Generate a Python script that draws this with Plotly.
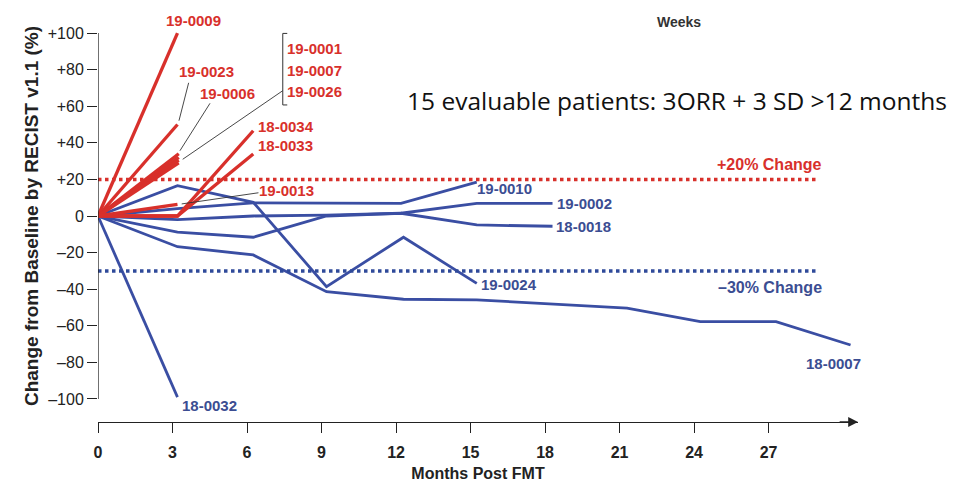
import plotly.graph_objects as go

# ---------------- data ----------------
red_patients = ["19-0009", "19-0023", "19-0006", "19-0001", "19-0007", "19-0026",
                "18-0034", "18-0033", "19-0013"]
red_months = [[0, 3.2], [0, 3.2], [0, 3.25], [0, 3.25], [0, 3.25], [0, 3.25],
              [0, 3.2, 6.25], [0, 3.2, 6.25], [0, 3.2]]
red_values = [[0, 100], [0, 50], [0, 34], [0, 32], [0, 30.5], [0, 29],
              [0, 0, 46.6], [0, 0, 33.9], [0, 6.3]]

blue_patients = ["19-0010", "19-0002", "18-0018", "19-0024", "18-0007", "18-0032"]
blue_months = [[0, 3.2, 6.25, 12.2, 15.25],
               [0, 3.2, 6.25, 9.2, 12.2, 15.25, 18.3],
               [0, 3.2, 6.25, 9.2, 12.2, 15.25, 18.3],
               [0, 3.2, 6.25, 9.2, 12.3, 15.25],
               [0, 3.2, 6.25, 9.2, 12.3, 15.25, 21.3, 24.25, 27.3, 30.3],
               [0, 3.2]]
blue_values = [[0, 4, 7.2, 6.9, 18.5],
               [0, -8.8, -11.6, 0, 1.5, 6.9, 6.9],
               [0, -2, 0, 0.5, 1.5, -4.9, -5.6],
               [0, 16.6, 7.5, -38.6, -11.6, -36.8],
               [0, -16.8, -21.3, -41.4, -45.5, -45.8, -50.4, -57.7, -57.7, -70.5],
               [0, -99]]

thresholds = [20, -30]
threshold_labels = ["+20% Change", "\u201330% Change"]

y_tickvals = [100, 80, 60, 40, 20, 0, -20, -40, -60, -80, -100]
y_ticktext = ["+100", "+80", "+60", "+40", "+20", "0", "\u201320", "\u201340",
              "\u201360", "\u201380", "\u2013100"]
x_tickvals = [0, 3, 6, 9, 12, 15, 18, 21, 24, 27]

# ---------------- style ----------------
RED = "#d8302b"
BLUE = "#3a4ea3"
BLUE_TXT = "#3b4d92"
FONT = "Liberation Sans, Arial, sans-serif"
X_MAX = 30.6
Y_MIN, Y_MAX = -112.6, 112.6

fig = go.Figure()

for name, xs, ys in zip(blue_patients, blue_months, blue_values):
    fig.add_trace(go.Scatter(x=xs, y=ys, mode="lines", name=name,
                             line=dict(color=BLUE, width=2.8), showlegend=False))
for name, xs, ys in zip(red_patients, red_months, red_values):
    fig.add_trace(go.Scatter(x=xs, y=ys, mode="lines", name=name,
                             line=dict(color=RED, width=3.3), showlegend=False))

# threshold dotted lines
for val, col in zip(thresholds, [RED, "#2f4a9a"]):
    fig.add_trace(go.Scatter(x=[0, 29.0], y=[val, val], mode="lines",
                             line=dict(color=col, width=3.5, dash="dot"),
                             showlegend=False, hoverinfo="skip"))

# y axis line (from -100 to +100)
fig.add_shape(type="line", x0=0, x1=0, y0=-100, y1=100, xref="x", yref="y",
              line=dict(color="#222", width=1.3), layer="above")

# leader lines (thin black)
leaders = [((3.65, 72.8), (3.26, 52.1)),
           ((4.51, 61.6), (3.30, 35.7)),
           ((7.44, 68.5), (3.41, 31.0)),
           ((6.46, 12.7), (3.37, 6.6))]
for (xa, ya), (xb, yb) in leaders:
    fig.add_shape(type="line", x0=xa, y0=ya, x1=xb, y1=yb, xref="x", yref="y",
                  line=dict(color="#333", width=0.9))
# bracket
fig.add_shape(type="path",
              path="M 7.62 99.8 L 7.44 99.8 L 7.44 60.7 L 7.62 60.7",
              xref="x", yref="y", line=dict(color="#333", width=1))

annots = []
red_label_pos = {"19-0009": (3.84, 106.7), "19-0023": (4.36, 78.9), "19-0006": (5.22, 67.0),
                 "19-0001": (8.72, 91.6), "19-0007": (8.72, 79.8), "19-0026": (8.72, 67.9),
                 "18-0034": (7.55, 48.8), "18-0033": (7.55, 38.3), "19-0013": (7.60, 13.7)}
blue_label_pos = {"19-0010": (16.35, 15.1), "19-0002": (19.57, 6.9), "18-0018": (19.55, -5.8),
                  "19-0024": (16.54, -37.7), "18-0007": (29.6, -80.5), "18-0032": (4.50, -103.7)}
for name in red_patients:
    x, y = red_label_pos[name]
    annots.append(dict(x=x, y=y, text=name, showarrow=False, xref="x", yref="y",
                       font=dict(family=FONT, size=15, color=RED, weight="bold")))
for name in blue_patients:
    x, y = blue_label_pos[name]
    annots.append(dict(x=x, y=y, text=name, showarrow=False, xref="x", yref="y",
                       font=dict(family=FONT, size=15, color=BLUE_TXT, weight="bold")))

annots.append(dict(x=29.24, y=27.9, text=threshold_labels[0], showarrow=False, xanchor="right",
                   font=dict(family=FONT, size=16, color=RED, weight="bold")))
annots.append(dict(x=29.24, y=-39.1, text=threshold_labels[1], showarrow=False, xanchor="right",
                   font=dict(family=FONT, size=16, color=BLUE_TXT, weight="bold")))
annots.append(dict(x=23.4, y=106.2, text="Weeks", showarrow=False,
                   font=dict(family=FONT, size=14, color="#333", weight="bold")))
annots.append(dict(x=12.36, y=63.4, text="15 evaluable patients: 3ORR + 3 SD >12 months",
                   showarrow=False, xanchor="left",
                   font=dict(family="Open Sans, sans-serif", size=24.5, color="#111")))
# x axis arrow head
annots.append(dict(x=X_MAX, y=Y_MIN, ax=X_MAX - 0.8, ay=Y_MIN, xref="x", yref="y",
                   axref="x", ayref="y", showarrow=True, arrowhead=2, arrowsize=1.4,
                   arrowwidth=1.4, arrowcolor="#222", text=""))

# the page adds an 8px body margin, so the figure is sized/offset to compensate
fig.update_layout(
    width=965, height=484,
    margin=dict(l=90, r=115, t=2, b=70),
    paper_bgcolor="white", plot_bgcolor="white",
    annotations=annots,
    xaxis=dict(range=[0, X_MAX], tickvals=x_tickvals, ticks="outside", ticklen=10,
               tickcolor="#222", tickwidth=1.2, showline=True, linecolor="#222", linewidth=1.3,
               showgrid=False, zeroline=False, automargin=False, ticklabelstandoff=6,
               tickfont=dict(family=FONT, size=16, color="#222", weight="bold"),
               title=dict(text="Months Post FMT", standoff=7,
                          font=dict(family=FONT, size=16, color="#222", weight="bold"))),
    yaxis=dict(range=[Y_MIN, Y_MAX], tickvals=y_tickvals, ticktext=y_ticktext,
               ticks="outside", ticklen=10, tickcolor="#222", tickwidth=1.2,
               showline=False, showgrid=False, zeroline=False, automargin=False,
               tickfont=dict(family=FONT, size=16, color="#222"),
               title=dict(text="Change from Baseline by RECIST v1.1 (%)", standoff=4,
                          font=dict(family=FONT, size=19, color="#222", weight="bold"))),
)

fig.write_html("out.html")
